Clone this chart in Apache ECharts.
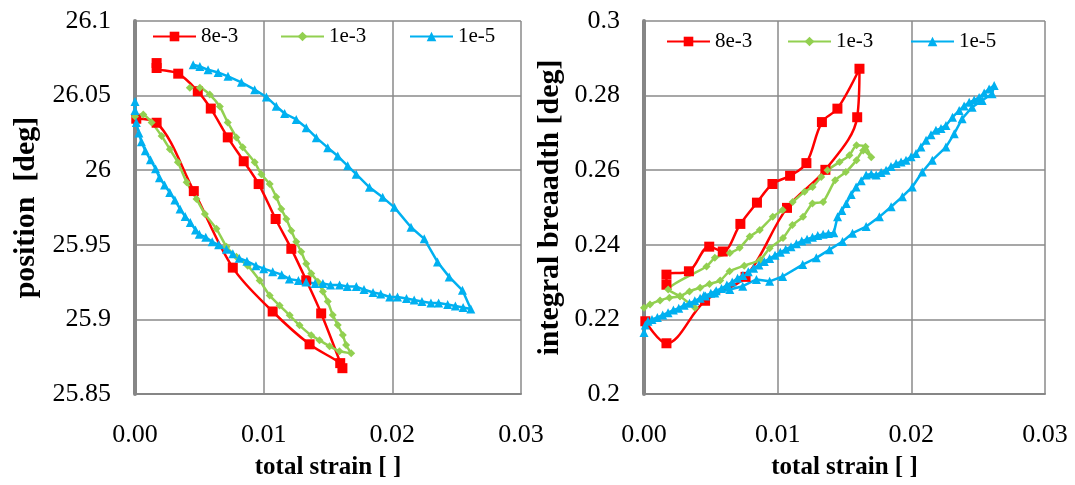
<!DOCTYPE html>
<html><head><meta charset="utf-8">
<script src="https://cdn.jsdelivr.net/npm/echarts@6/dist/echarts.min.js"></script>
<style>html,body{margin:0;padding:0;background:#fff}#c{width:1075px;height:485px}</style>
</head><body><div id="c"></div>
<script>
// ---- tick labels ----
const xTicks = [0, 0.01, 0.02, 0.03];
const yTicksPos = [25.85, 25.9, 25.95, 26, 26.05, 26.1];
const yTicksIB = [0.2, 0.22, 0.24, 0.26, 0.28, 0.3];
const seriesNames = ['8e-3', '1e-3', '1e-5'];

// ---- 8e-3 (same strain for both panels) ----
const strain8 = [0.0001, 0.00168, 0.00457, 0.0076, 0.0107, 0.01357, 0.01595, 0.01612, 0.01447, 0.01331, 0.01215, 0.01093, 0.00961, 0.00845, 0.00721, 0.00589, 0.00488, 0.00336, 0.00168, 0.00168];
const pos8 = [26.0345, 26.0318, 25.986, 25.9347, 25.9053, 25.8833, 25.8707, 25.8673, 25.904, 25.9262, 25.9473, 25.9673, 25.9907, 26.006, 26.022, 26.0413, 26.0529, 26.0647, 26.0685, 26.0718];
const ib8 = [0.2195, 0.2136, 0.2250, 0.2314, 0.2499, 0.2601, 0.2742, 0.2872, 0.2765, 0.2729, 0.2619, 0.2585, 0.2563, 0.2513, 0.2456, 0.2382, 0.2395, 0.2329, 0.2320, 0.2293];

// ---- 1e-3, position panel ----
const strain3p = [0.0000, 0.00064, 0.00129, 0.00207, 0.00271, 0.00333, 0.00401, 0.00478, 0.00543, 0.00633, 0.00711, 0.00788, 0.00876, 0.00969, 0.01047, 0.01124, 0.01202, 0.01279, 0.0137, 0.01434, 0.01512, 0.01589, 0.0168, 0.01641, 0.01615, 0.01576, 0.01537, 0.01498, 0.0146, 0.01421, 0.0137, 0.01331, 0.01292, 0.01253, 0.01215, 0.01176, 0.01137, 0.01098, 0.01047, 0.00982, 0.0093, 0.00837, 0.00788, 0.00721, 0.00659, 0.00581, 0.00504, 0.00426];
const pos3 = [26.036, 26.0373, 26.032, 26.0229, 26.014, 26.0053, 25.992, 25.9807, 25.9707, 25.9607, 25.9487, 25.942, 25.936, 25.926, 25.916, 25.9093, 25.9027, 25.896, 25.8893, 25.886, 25.882, 25.8787, 25.8773, 25.8829, 25.8895, 25.8962, 25.9029, 25.912, 25.9187, 25.9253, 25.9307, 25.9373, 25.9453, 25.952, 25.9595, 25.9673, 25.974, 25.982, 25.9907, 25.9973, 26.0053, 26.0153, 26.022, 26.032, 26.0427, 26.0507, 26.0553, 26.0553];

// ---- 1e-3, breadth panel ----
const strain3b = [0.0000, 0.00045, 0.0012, 0.0019, 0.0027, 0.0034, 0.0042, 0.0049, 0.0057, 0.0064, 0.0075, 0.0087, 0.0094, 0.0104, 0.0111, 0.0119, 0.0126, 0.0134, 0.0143, 0.0151, 0.0159, 0.0164, 0.0170, 0.01657, 0.0159, 0.01537, 0.01463, 0.01373, 0.01326, 0.01261, 0.01201, 0.01112, 0.01037, 0.00963, 0.00866, 0.00791, 0.00716, 0.00642, 0.0053, 0.00468, 0.00181, 0.00269, 0.00381];
const ib3 = [0.2231, 0.2240, 0.2251, 0.2258, 0.2262, 0.2275, 0.2285, 0.2295, 0.2304, 0.2329, 0.2344, 0.2360, 0.2391, 0.2418, 0.2453, 0.2475, 0.2511, 0.2515, 0.2573, 0.2595, 0.2627, 0.2653, 0.2635, 0.2663, 0.2667, 0.2640, 0.2622, 0.2600, 0.2582, 0.2555, 0.2542, 0.2515, 0.2493, 0.2475, 0.2440, 0.2422, 0.2392, 0.2378, 0.2365, 0.2342, 0.2280, 0.2262, 0.2231];

// ---- 1e-5, position panel ----
const strain5p = [0.0000, 0.0000, 0.0001, 0.0003, 0.0005, 0.0008, 0.0012, 0.0016, 0.0019, 0.0023, 0.0027, 0.0031, 0.0035, 0.0039, 0.0043, 0.0047, 0.0050, 0.0055, 0.0060, 0.0065, 0.0071, 0.0076, 0.0081, 0.0087, 0.0094, 0.0100, 0.0107, 0.0114, 0.0120, 0.0127, 0.0133, 0.0140, 0.0146, 0.0152, 0.0159, 0.0165, 0.0172, 0.0178, 0.0185, 0.0191, 0.0198, 0.0204, 0.0211, 0.0217, 0.0223, 0.0230, 0.0236, 0.0243, 0.0249, 0.0255, 0.0261,
  0.02545, 0.02442, 0.02351, 0.02248, 0.02145, 0.02016, 0.01925, 0.01822, 0.01719, 0.01653, 0.01576, 0.01498, 0.01409, 0.01331, 0.01253, 0.01163, 0.01098, 0.01021, 0.0093, 0.00827, 0.00723, 0.00646, 0.00568, 0.00504, 0.00452];
const pos5 = [26.046, 26.040, 26.032, 26.025, 26.019, 26.013, 26.007, 26.001, 25.995, 25.990, 25.985, 25.980, 25.974, 25.969, 25.965, 25.960, 25.957, 25.955, 25.952, 25.950, 25.947, 25.944, 25.941, 25.939, 25.936, 25.934, 25.932, 25.930, 25.927, 25.926, 25.925, 25.924, 25.924, 25.923, 25.923, 25.922, 25.922, 25.920, 25.918, 25.917, 25.915, 25.915, 25.914, 25.913, 25.912, 25.911, 25.911, 25.910, 25.909, 25.908, 25.907,
  25.9195, 25.9285, 25.9385, 25.954, 25.9618, 25.9751, 25.9818, 25.9885, 25.9973, 26.0029, 26.0095, 26.0151, 26.0218, 26.0285, 26.034, 26.038, 26.0429, 26.0491, 26.054, 26.0589, 26.0629, 26.0655, 26.0673, 26.0695, 26.0707];

// ---- 1e-5, breadth panel ----
const strain5b = [0.0000, 0.0001, 0.0003, 0.0006, 0.0010, 0.0014, 0.0018, 0.0022, 0.0026, 0.0030, 0.0034, 0.0038, 0.0042, 0.0046, 0.0050, 0.0054, 0.0058, 0.0062, 0.0066, 0.0070, 0.0074, 0.0078, 0.0082, 0.0086, 0.0090, 0.0094, 0.0098, 0.0102, 0.0106, 0.0110, 0.0114, 0.0118, 0.0122, 0.0126, 0.0130, 0.0134, 0.0138, 0.0142,
  0.01448, 0.01480, 0.01513, 0.01550, 0.01587, 0.01625, 0.01662, 0.01700, 0.01737, 0.01774, 0.01811, 0.01848, 0.01886, 0.01923, 0.0196, 0.01998, 0.02035, 0.02072, 0.0211, 0.02147, 0.02184, 0.02222, 0.02259, 0.02308, 0.02358, 0.02395, 0.02433, 0.0247, 0.02507, 0.02545, 0.02582, 0.0262,
  0.02604, 0.0253, 0.02455, 0.0238, 0.02321, 0.02259, 0.02157, 0.02082, 0.02007, 0.01933, 0.01849, 0.01761, 0.01662, 0.0156, 0.01485, 0.01388, 0.01289, 0.01187, 0.01037, 0.0094, 0.00841, 0.00739, 0.00642, 0.0053, 0.00448];
const ib5 = [0.2165, 0.2185, 0.2195, 0.2200, 0.2205, 0.2212, 0.2218, 0.2225, 0.2230, 0.2238, 0.2243, 0.2250, 0.2257, 0.2263, 0.2270, 0.2277, 0.2283, 0.2292, 0.2300, 0.2310, 0.2318, 0.2328, 0.2337, 0.2346, 0.2355, 0.2363, 0.2372, 0.2380, 0.2388, 0.2395, 0.2403, 0.2410, 0.2415, 0.2420, 0.2425, 0.2428, 0.2430, 0.2432,
  0.2475, 0.2492, 0.2511, 0.2535, 0.2555, 0.2572, 0.2587, 0.2590, 0.2587, 0.2594, 0.2600, 0.2610, 0.2618, 0.2622, 0.2627, 0.2636, 0.2645, 0.2662, 0.2680, 0.2695, 0.2707, 0.2712, 0.2720, 0.2742, 0.2760, 0.2772, 0.2782, 0.2788, 0.2795, 0.2807, 0.2818, 0.2827,
  0.2805, 0.2787, 0.2769, 0.2738, 0.2698, 0.2662, 0.2627, 0.2595, 0.2555, 0.2529, 0.2502, 0.2475, 0.2449, 0.2431, 0.2409, 0.2387, 0.2365, 0.2347, 0.2315, 0.2302, 0.2307, 0.2289, 0.2280, 0.2271, 0.2264];

const zip = (xs, ys) => xs.map((x, i) => [x, ys[i]]);
const FONT = 'Liberation Serif';
const colors = ['#ff0000', '#92d050', '#00b0f0'];
const symbols = ['rect', 'diamond', 'triangle'];
const symSizes = [10, 8, 9];

function xAxisCfg(gi) {
  return {
    gridIndex: gi, type: 'value', min: xTicks[0], max: xTicks[xTicks.length - 1], interval: xTicks[1] - xTicks[0],
    axisLine: { onZero: false, lineStyle: { color: '#868686', width: 2 } },
    axisTick: { show: false },
    axisLabel: { formatter: v => v.toFixed(2), fontFamily: FONT, fontSize: 26, color: '#000', margin: 28 },
    splitLine: { show: true, lineStyle: { color: '#8a8a8a', width: 1.5 } },
    name: 'total strain [ ]', nameLocation: 'middle', nameGap: 61,
    nameTextStyle: { fontFamily: FONT, fontSize: 25, fontWeight: 'bold', color: '#000' }
  };
}
function yAxisCfg(gi, ticks, name, gap) {
  return {
    gridIndex: gi, type: 'value', min: ticks[0], max: ticks[ticks.length - 1], interval: +(ticks[1] - ticks[0]).toFixed(6),
    axisLine: { onZero: false, lineStyle: { color: '#868686', width: 4 } },
    axisTick: { show: false },
    axisLabel: { fontFamily: FONT, fontSize: 26, color: '#000', margin: 24 },
    splitLine: { show: true, lineStyle: { color: '#8a8a8a', width: 1.5 } },
    name: name, nameLocation: 'middle', nameGap: gap, nameRotate: 90,
    nameTextStyle: { fontFamily: FONT, fontSize: 30, fontWeight: 'bold', color: '#000' }
  };
}
function mkSeries(i, gi, data, smooth) {
  return {
    type: 'line', name: seriesNames[i], xAxisIndex: gi, yAxisIndex: gi, data: data,
    smooth: smooth, symbol: symbols[i], symbolSize: symSizes[i], showSymbol: true,
    lineStyle: { color: colors[i], width: 2.5 }, itemStyle: { color: colors[i] },
    emphasis: { disabled: true }, animation: false
  };
}
function mkLegend(i, left, top) {
  return {
    data: [seriesNames[i]], left: left, top: top, itemWidth: 43, itemHeight: 12, itemGap: 0,
    padding: 0, selectedMode: false,
    textStyle: { fontFamily: FONT, fontSize: 21, color: '#000', padding: [0, 0, 0, 0] }
  };
}

const chart = echarts.init(document.getElementById('c'), null, { renderer: 'canvas' });
chart.setOption({
  animation: false,
  backgroundColor: '#fff',
  grid: [
    { left: 135, top: 21, width: 386, height: 374 },
    { left: 644, top: 21, width: 401, height: 374 }
  ],
  xAxis: [xAxisCfg(0), xAxisCfg(1)],
  yAxis: [yAxisCfg(0, yTicksPos, 'position  [deg]', 94), yAxisCfg(1, yTicksIB, 'integral breaadth [deg]', 79)],
  legend: [
    mkLegend(0, 152, 26), mkLegend(1, 280, 26), mkLegend(2, 409, 26),
    mkLegend(0, 666, 31), mkLegend(1, 787, 31), mkLegend(2, 910, 31)
  ],
  series: [
    mkSeries(0, 0, zip(strain8, pos8), 0.35),
    mkSeries(1, 0, zip(strain3p, pos3), 0.2),
    mkSeries(2, 0, zip(strain5p, pos5), false),
    mkSeries(0, 1, zip(strain8, ib8), 0.35),
    mkSeries(1, 1, zip(strain3b, ib3), 0.2),
    mkSeries(2, 1, zip(strain5b, ib5), false)
  ]
});
</script></body></html>
